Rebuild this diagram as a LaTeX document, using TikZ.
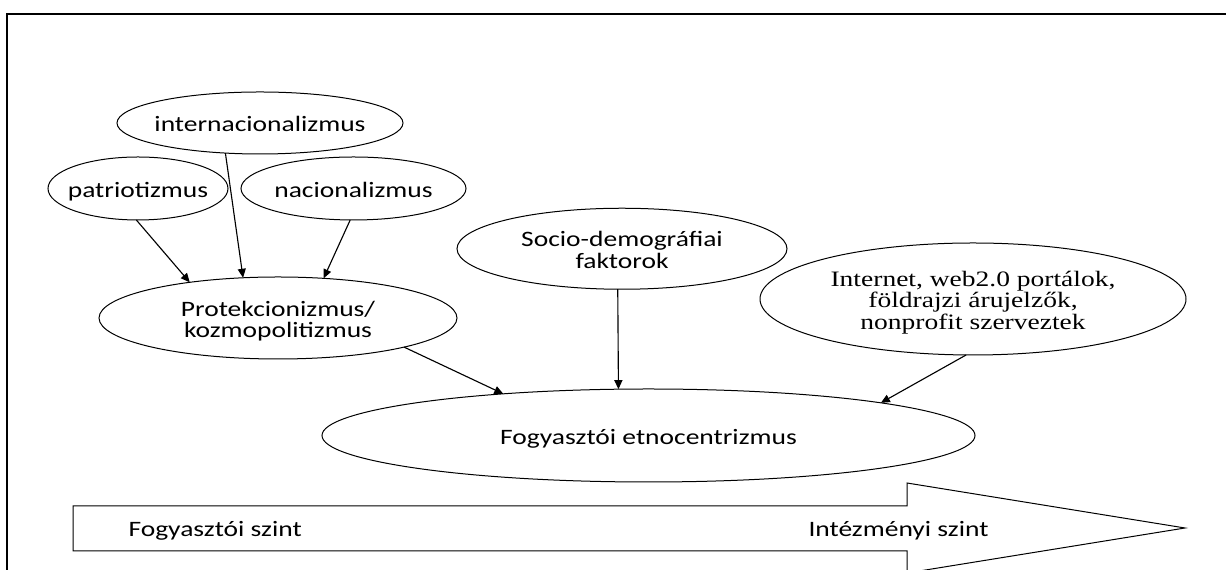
\documentclass[tikz,border=0pt]{standalone}
\usepackage{fontspec}
\setmainfont{Carlito}
\newfontfamily\serifnet{Liberation Serif}
\usetikzlibrary{shapes.geometric,arrows.meta}
\newcommand\etxt[1]{\makebox[0pt]{\raisebox{-3.84pt}[0pt][0pt]{\scalebox{1}[0.8]{\begin{tabular}{@{}c@{}}#1\end{tabular}}}}}
\begin{document}
\begin{tikzpicture}[x=0.4pt,y=-0.4pt,
  ell/.style={ellipse,draw,line width=0.4pt,inner sep=0pt,outer sep=0pt,font=\fontsize{11}{9.8}\selectfont},
  con/.style={line width=0.45pt,-{Triangle[length=3.6pt,width=3.2pt]}},
  framelines/.style={line width=0.8pt},
  lvl/.style={inner sep=0pt,anchor=base west,font=\fontsize{11}{9.8}\selectfont}]
\clip (0,0) rectangle (1226,570);
\draw[framelines] (7,575) -- (7,14) -- (1232,14);
\node[ell,minimum width=114.4pt,minimum height=24.8pt] (inter) at (260,123) {\etxt{internacionalizmus}};
\node[ell,minimum width=72pt,minimum height=25.2pt] (pat) at (138,188.5) {\etxt{patriotizmus}};
\node[ell,minimum width=90pt,minimum height=25.2pt] (nac) at (353.5,188.5) {\etxt{nacionalizmus}};
\node[ell,minimum width=143.2pt,minimum height=32.8pt] (prot) at (278,318) {\etxt{Protekcionizmus/\\kozmopolitizmus}};
\node[ell,minimum width=132pt,minimum height=32.4pt] (soc) at (622,248.75) {\etxt{Socio-demográfiai\\faktorok}};
\node[ell,minimum width=170.4pt,minimum height=44.8pt,font=\serifnet\fontsize{11}{9.8}\selectfont] (net) at (973,299) {\etxt{Internet, web2.0 portálok,\\földrajzi árujelzők,\\nonprofit szerveztek}};
\node[ell,minimum width=261.2pt,minimum height=37.2pt] (fog) at (648.5,435.5) {\etxt{Fogyasztói etnocentrizmus}};
\draw[con] (pat.-93.6) -- (prot.158.2);
\draw[con] (inter.-139.3) -- (prot.131);
\draw[con] (nac.-96.3) -- (prot.41.4);
\draw[con] (prot.-13) -- (fog.164.6);
\draw[con] (soc.-96.3) -- (fog.123.8);
\draw[con] (net.-97) -- (fog.8.84);
\coordinate (bodyNW) at (73,506);
\coordinate (neckTop) at (907,506);
\coordinate (headTop) at (907,483);
\coordinate (tip) at (1185,528);
\coordinate (headBot) at (907,573);
\coordinate (neckBot) at (907,551);
\coordinate (bodySW) at (73,551);
\draw[line width=0.4pt] (bodyNW) -- (neckTop) -- (headTop) -- (tip) -- (headBot) -- (neckBot) -- (bodySW) -- cycle;
\node[lvl] (lvlA) at (128,536.7) {\scalebox{1}[0.8]{Fogyasztói szint}};
\node[lvl] (lvlB) at (808,536.7) {\scalebox{1}[0.8]{Intézményi szint}};
\end{tikzpicture}
\end{document}
